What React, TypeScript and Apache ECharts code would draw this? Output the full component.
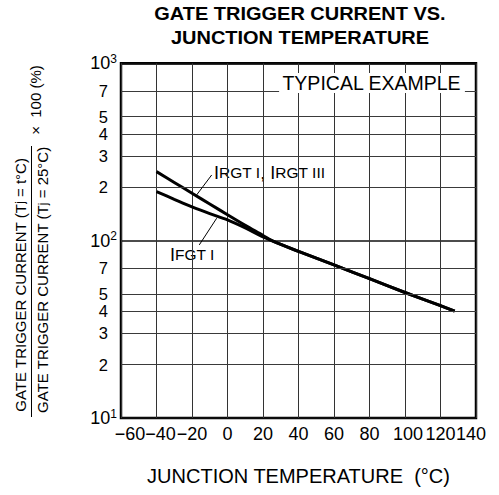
import React, { useEffect, useRef } from "react";
import * as echarts from "echarts";

const temps = [-40, -30, -20, -10, 0, 10, 20, 25, 40, 60, 80, 100, 120, 128];
const irgt = [245, 213, 185, 161, 140, 122, 107, 100, 87, 73, 61, 51, 43, 40];
const ifgt = [189, 171, 155, 142, 131, 118, 105, 100, 87, 73, 61, 51, 43, 40];
const minorTicks = [20, 30, 40, 50, 70, 200, 300, 400, 500, 700];
const xTicks = [-60, -40, -20, 0, 20, 40, 60, 80, 100, 120, 140];

const FONT = "'Liberation Sans', Arial, Helvetica, sans-serif";

// label nudges (px of padding) so crowded tick labels sit as in the original print
const xLabelStyle: any = { "-60": "r18", "-40": "r8", "100": "r6", "140": "l10" };

export default function App() {
  const ref = useRef<HTMLDivElement>(null);
  useEffect(() => {
    if (!ref.current) return;
    const chart = echarts.init(ref.current, null, { renderer: "svg" });
    const pair = (ys: number[]) => temps.map((t, i) => [t, ys[i]]);
    const xl = { fontFamily: FONT, fontSize: 18, color: "#000" };
    const option: any = {
      animation: false,
      backgroundColor: "#fff",
      textStyle: { fontFamily: FONT, color: "#000" },
      grid: {
        left: 121,
        right: 23,
        top: 63.3,
        bottom: 77,
        show: true,
        borderColor: "#000",
        borderWidth: 2.5,
        backgroundColor: "transparent",
      },
      xAxis: {
        type: "value",
        min: xTicks[0],
        max: xTicks[xTicks.length - 1],
        interval: 20,
        axisLine: { show: false },
        axisTick: { show: false },
        splitLine: { show: true, lineStyle: { color: "#333", width: 1 } },
        axisLabel: {
          fontFamily: FONT,
          fontSize: 18,
          color: "#000",
          margin: 7,
          hideOverlap: false,
          showMinLabel: true,
          showMaxLabel: true,
          formatter: (v: number) => {
            const t = v < 0 ? "\u2212" + Math.abs(v) : String(v);
            const s = xLabelStyle[String(v)] || "n";
            return `{${s}|${t}}`;
          },
          rich: {
            n: xl,
            r18: { ...xl, padding: [0, 0, 0, 18] },
            r8: { ...xl, padding: [0, 0, 0, 8] },
            r6: { ...xl, padding: [0, 0, 0, 6] },
            l10: { ...xl, padding: [0, 10, 0, 0] },
          },
        },
        name: "JUNCTION TEMPERATURE  (°C)",
        nameLocation: "middle",
        nameGap: 48,
        nameTextStyle: { fontFamily: FONT, fontSize: 20, color: "#000" },
      },
      yAxis: {
        type: "log",
        logBase: 10,
        min: 10,
        max: 1000,
        splitNumber: 2,
        axisLine: { show: false },
        axisTick: { show: false },
        splitLine: { show: true, lineStyle: { color: "#111", width: 1.5 } },
        axisLabel: {
          margin: 4,
          color: "#000",
          showMinLabel: true,
          showMaxLabel: true,
          formatter: (v: number) => `{b|10}{s|${Math.round(Math.log10(v))}}`,
          rich: {
            b: { fontFamily: FONT, fontSize: 18, color: "#000" },
            s: { fontFamily: FONT, fontSize: 12, color: "#000", padding: [0, 0, 9, 0] },
          },
        },
      },
      series: [
        {
          type: "line",
          name: "grid",
          data: [],
          silent: true,
          markLine: {
            silent: true,
            symbol: ["none", "none"],
            lineStyle: { color: "#3a3a3a", width: 1, type: "solid" },
            label: {
              show: true,
              position: "start",
              distance: 13,
              fontFamily: FONT,
              fontSize: 16.5,
              lineHeight: 15,
              color: "#000",
              formatter: (p: any) => String(p.value).charAt(0),
            },
            data: minorTicks.map((v) => ({ yAxis: v })),
          },
        },
        {
          type: "line",
          name: "IRGT",
          data: pair(irgt),
          smooth: 0.3,
          symbol: "none",
          lineStyle: { color: "#000", width: 3 },
          markLine: {
            silent: true,
            symbol: ["none", "none"],
            lineStyle: { color: "#000", width: 1, type: "solid" },
            label: { show: false },
            data: [[{ coord: [-8.9, 234.6] }, { coord: [-17.4, 181] }]],
          },
        },
        {
          type: "line",
          name: "IFGT",
          data: pair(ifgt),
          smooth: 0.3,
          symbol: "none",
          lineStyle: { color: "#000", width: 3 },
          markLine: {
            silent: true,
            symbol: ["none", "none"],
            lineStyle: { color: "#000", width: 1, type: "solid" },
            label: { show: false },
            data: [[{ coord: [-15.9, 94.6] }, { coord: [-6.1, 133.8] }]],
          },
        },
      ],
      graphic: [
        {
          type: "text",
          x: 300,
          y: 13.7,
          scaleX: 1.11,
          style: {
            text: "GATE TRIGGER CURRENT VS.",
            font: `bold 18px ${FONT}`,
            fill: "#000",
            textAlign: "center",
            textVerticalAlign: "middle",
          },
        },
        {
          type: "text",
          x: 300,
          y: 38.3,
          scaleX: 1.11,
          style: {
            text: "JUNCTION TEMPERATURE",
            font: `bold 18px ${FONT}`,
            fill: "#000",
            textAlign: "center",
            textVerticalAlign: "middle",
          },
        },
        {
          type: "text",
          x: 372,
          y: 83,
          z: 100,
          style: {
            text: "TYPICAL EXAMPLE",
            font: `19.5px ${FONT}`,
            fill: "#000",
            textAlign: "center",
            textVerticalAlign: "middle",
            backgroundColor: "#fff",
            padding: [0, 4, 0, 3],
          },
        },
        {
          type: "text",
          x: 214,
          y: 172.5,
          style: {
            text: "{b|I}{s|RGT I}{b|, I}{s|RGT III}",
            fill: "#000",
            textVerticalAlign: "middle",
            rich: {
              b: { fontFamily: FONT, fontSize: 18, fill: "#000" },
              s: { fontFamily: FONT, fontSize: 15.5, fill: "#000" },
            },
          },
        },
        {
          type: "text",
          x: 170,
          y: 254.7,
          style: {
            text: "{b|I}{s|FGT I}",
            fill: "#000",
            textVerticalAlign: "middle",
            rich: {
              b: { fontFamily: FONT, fontSize: 18, fill: "#000" },
              s: { fontFamily: FONT, fontSize: 15.5, fill: "#000" },
            },
          },
        },
        {
          type: "text",
          x: 20,
          y: 285,
          rotation: Math.PI / 2,
          style: {
            text: "GATE TRIGGER CURRENT (T{j|j} = t°C)",
            fill: "#000",
            font: `15px ${FONT}`,
            textAlign: "center",
            textVerticalAlign: "middle",
            rich: { j: { fontFamily: FONT, fontSize: 12, fill: "#000" } },
          },
        },
        {
          type: "text",
          x: 42.5,
          y: 280,
          rotation: Math.PI / 2,
          style: {
            text: "GATE TRIGGER CURRENT (T{j|j} = 25°C)",
            fill: "#000",
            font: `15px ${FONT}`,
            textAlign: "center",
            textVerticalAlign: "middle",
            rich: { j: { fontFamily: FONT, fontSize: 12, fill: "#000" } },
          },
        },
        {
          type: "line",
          shape: { x1: 31.5, y1: 146, x2: 31.5, y2: 417 },
          style: { stroke: "#000", lineWidth: 1 },
        },
        {
          type: "text",
          x: 35,
          y: 100,
          rotation: Math.PI / 2,
          style: {
            text: "\u00d7  100 (%)",
            fill: "#000",
            font: `15px ${FONT}`,
            textAlign: "center",
            textVerticalAlign: "middle",
          },
        },
      ],
    };
    chart.setOption(option);
    return () => chart.dispose();
  }, []);
  return (
    <div
      ref={ref}
      style={{ position: "absolute", left: 0, top: 0, width: 499, height: 495 }}
    />
  );
}
